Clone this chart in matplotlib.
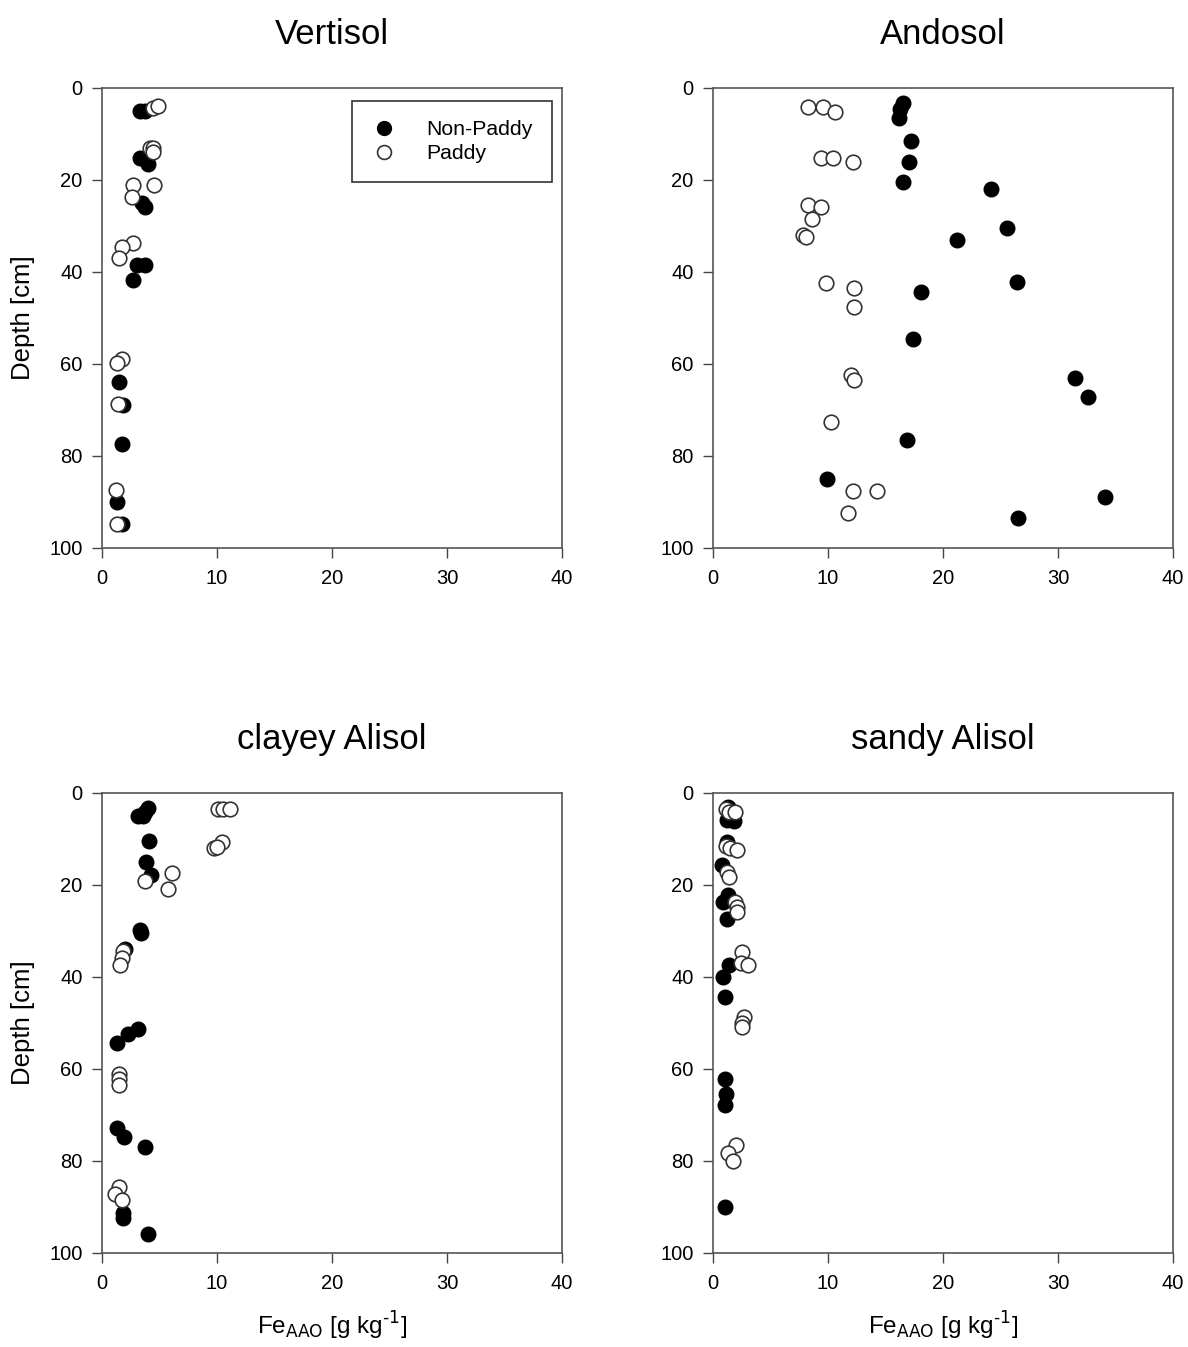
import matplotlib
matplotlib.use("Agg")
import matplotlib.pyplot as plt

plt.rcParams['font.family'] = ['Liberation Sans', 'DejaVu Sans']

# Vertisol
vert_np_fe = [3.3, 3.7, 3.3, 4.0, 3.5, 3.7, 3.0, 3.7, 2.7, 1.5, 1.8, 1.7, 1.3, 1.7]
vert_np_d = [5.0, 5.0, 15.2, 16.5, 25.0, 25.9, 38.5, 38.5, 41.8, 64.0, 69.0, 77.4, 90.0, 94.8]
vert_p_fe = [4.4, 4.9, 4.2, 4.4, 4.4, 2.7, 4.5, 2.6, 2.7, 1.7, 1.5, 1.7, 1.3, 1.4, 1.2, 1.3]
vert_p_d = [4.3, 3.9, 13.0, 13.0, 13.9, 21.0, 21.0, 23.6, 33.8, 34.5, 37.0, 59.0, 59.8, 68.6, 87.4, 94.8]

# Andosol
ando_np_fe = [16.5, 16.3, 16.2, 17.2, 17.0, 16.5, 24.2, 25.6, 21.2, 26.4, 18.1, 17.4, 31.5, 32.6,
              16.9, 9.9, 34.1, 26.5]
ando_np_d = [3.3, 4.6, 6.5, 11.5, 16.0, 20.5, 22.0, 30.4, 33.0, 42.1, 44.3, 54.6, 63.0, 67.1,
             76.5, 85.0, 89.0, 93.5]
ando_p_fe = [8.3, 9.6, 10.6, 9.4, 10.4, 12.2, 8.3, 9.4, 8.6, 7.8, 8.1, 9.8, 12.3, 12.3, 12.0, 12.3,
             10.3, 12.2, 14.3, 11.7]
ando_p_d = [4.1, 4.1, 5.2, 15.2, 15.2, 16.0, 25.4, 25.9, 28.5, 32.0, 32.4, 42.4, 43.5, 47.6, 62.4, 63.5,
            72.6, 87.6, 87.6, 92.4]

# clayey Alisol
clay_np_fe = [4.0, 3.7, 3.1, 3.6, 4.1, 3.8, 4.3, 3.3, 3.4, 2.0, 3.1, 2.3, 1.3, 1.3, 1.9, 3.7, 1.8, 1.8, 4.0]
clay_np_d = [3.3, 4.1, 5.0, 5.0, 10.5, 15.0, 17.8, 29.8, 30.4, 34.0, 51.3, 52.4, 54.3, 72.8, 74.8, 76.9,
             91.3, 92.4, 95.9]
clay_p_fe = [10.1, 10.5, 11.1, 10.4, 9.7, 10.0, 3.7, 6.1, 5.7, 1.8, 1.7, 1.6, 1.5, 1.5, 1.5, 1.5, 1.1, 1.7]
clay_p_d = [3.5, 3.5, 3.5, 10.7, 12.0, 11.7, 19.1, 17.4, 20.9, 34.3, 35.9, 37.3, 61.1, 62.2, 63.5,
            85.6, 87.2, 88.5]

# sandy Alisol
sand_np_fe = [1.3, 1.2, 1.8, 1.2, 0.8, 1.3, 0.9, 1.2, 1.4, 0.9, 1.0, 1.0, 1.1, 1.0, 1.0]
sand_np_d = [3.0, 5.9, 6.1, 10.7, 15.6, 22.1, 23.6, 27.4, 37.3, 40.0, 44.3, 62.2, 65.4, 67.8, 90.0]
sand_p_fe = [1.1, 1.4, 1.9, 1.1, 1.5, 2.1, 1.2, 1.4, 1.9, 2.1, 2.1, 2.5, 2.4, 3.0, 2.7, 2.5, 2.5,
             2.0, 1.3, 1.7]
sand_p_d = [3.5, 4.1, 4.1, 11.5, 12.0, 12.4, 17.1, 18.2, 23.6, 24.8, 25.8, 34.6, 37.0, 37.3, 48.7, 50.1,
            50.9, 76.5, 78.3, 80.0]

titles = ["Vertisol", "Andosol", "clayey Alisol", "sandy Alisol"]
non_paddy = [(vert_np_fe, vert_np_d), (ando_np_fe, ando_np_d), (clay_np_fe, clay_np_d), (sand_np_fe, sand_np_d)]
paddy = [(vert_p_fe, vert_p_d), (ando_p_fe, ando_p_d), (clay_p_fe, clay_p_d), (sand_p_fe, sand_p_d)]

fig = plt.figure(figsize=(11.88, 13.47), dpi=100)
W, H = 1188, 1347
boxes = [(102, 88), (713, 88), (102, 793), (713, 793)]
aw, ah = 460, 460

for i, (x0, y0) in enumerate(boxes):
    ax = fig.add_axes([x0 / W, 1 - (y0 + ah) / H, aw / W, ah / H])
    ax.plot(non_paddy[i][0], non_paddy[i][1], 'o', color='black', markersize=10.5,
            markeredgecolor='black', label='Non-Paddy', clip_on=False)
    ax.plot(paddy[i][0], paddy[i][1], 'o', markerfacecolor='white', markersize=10.5,
            markeredgecolor='#333333', markeredgewidth=1.2, label='Paddy', clip_on=False)
    ax.set_xlim(0, 40)
    ax.set_ylim(100, 0)
    ax.set_xticks([0, 10, 20, 30, 40])
    ax.set_yticks([0, 20, 40, 60, 80, 100])
    ax.tick_params(direction='out', length=7, width=1, labelsize=14.5, colors='#444444',
                   labelcolor='black')
    ax.tick_params(axis='x', pad=8)
    ax.tick_params(axis='y', pad=7)
    for s in ax.spines.values():
        s.set_color('#555555')
        s.set_linewidth(1.2)
    ax.set_title(titles[i], fontsize=25, pad=32)
    if i % 2 == 0:
        ax.set_ylabel('Depth [cm]', fontsize=18.5, labelpad=10)
    if i >= 2:
        ax.set_xlabel('Fe$_{\\mathrm{AAO}}$ [g kg$^{\\mathrm{\u2010}1}$]', fontsize=17.5, labelpad=12)
    if i == 0:
        leg = ax.legend(loc='upper right', bbox_to_anchor=(0.978, 0.972), fontsize=15.3,
                        frameon=True, fancybox=False, edgecolor='black', borderpad=0.9,
                        handlelength=1.2, handletextpad=1.4, markerscale=0.95,
                        labelspacing=0.25, borderaxespad=0.0)
        leg.get_frame().set_linewidth(1.2)

fig.savefig('out.png', dpi=100)
